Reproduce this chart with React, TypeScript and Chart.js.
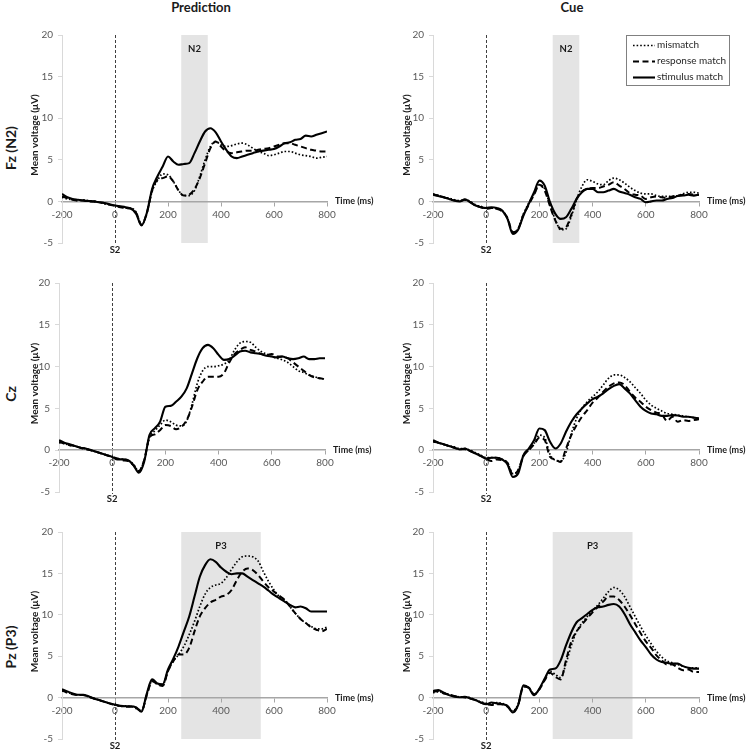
import React, { useEffect, useRef } from "react";
import { Chart, registerables } from "chart.js";

Chart.register(...registerables);

// ---------- data ----------
const TIMES = [-200,-180,-160,-140,-120,-100,-80,-60,-40,-20,0,20,40,60,80,100,120,140,160,180,200,220,240,260,280,300,320,340,360,380,400,420,440,460,480,500,520,540,560,580,600,620,640,660,680,700,720,740,760,780,800];

const SERIES_LABELS = ["mismatch", "response match", "stimulus match"];
const COLUMN_TITLES = ["Prediction", "Cue"];
const ROW_LABELS = ["Fz (N2)", "Cz", "Pz (P3)"];
const X_TITLE = "Time (ms)";
const Y_TITLE = "Mean voltage (μV)";
const ONSET_LABEL = "S2";
const ONSET_TIME = 0;
const N2_WINDOW = [250, 350];
const P3_WINDOW = [250, 550];

const FZ_PRED_MISMATCH = [0.5,0.3,0.2,0.1,0.2,0.1,0.0,-0.1,-0.3,-0.4, -0.5,-0.6,-0.8,-0.8,-1.3, -2.8,-1.5,1.2,2.5,3.3, 3.2,2.4,1.3,0.7,0.7, 1.3,3.0,5.0,6.6,7.2, 6.8,6.6,6.7,6.9,7.0, 6.8,6.4,6.0,5.8,5.5, 5.6,5.8,6.0,6.0,5.8, 5.6,5.5,5.4,5.2,5.3, 5.4];
const FZ_PRED_RESPONSE = [0.6,0.4,0.2,0.1,0.1,0.0,0.0,-0.1,-0.2,-0.4, -0.5,-0.7,-0.8,-0.9,-1.4, -2.8,-1.4,1.3,2.6,2.8, 3.0,2.4,1.3,0.7,0.8, 1.5,2.8,4.6,6.4,7.2, 6.6,6.0,5.8,5.9,6.0, 6.1,6.1,6.2,6.3,6.4, 6.6,6.8,7.0,7.0,6.8, 6.6,6.4,6.2,6.1,6.0, 6.0];
const FZ_PRED_STIMULUS = [0.9,0.5,0.3,0.2,0.1,0.05,0.0,-0.1,-0.2,-0.35, -0.5,-0.6,-0.7,-0.85,-1.5, -2.9,-1.4,1.5,3.0,4.2, 5.4,4.8,4.4,4.5,4.6, 5.8,7.2,8.4,8.8,8.3, 7.2,6.2,5.4,5.2,5.4, 5.6,5.8,6.0,6.1,6.2, 6.3,6.6,7.0,7.1,7.4, 7.5,7.9,7.8,8.0,8.2, 8.4];

const FZ_CUE_MISMATCH = [0.9,0.7,0.5,0.4,0.2,0.1,0.2,0.0,-0.4,-0.6, -0.8,-0.8,-0.9,-1.1,-2.0, -3.7,-3.3,-1.5,-0.2,0.9, 2.0,1.5,-0.5,-2.2,-3.4, -3.3,-1.8,0.2,1.8,2.6, 2.4,2.1,2.0,2.5,2.8, 2.6,2.2,1.7,1.3,1.0, 0.9,0.9,0.7,0.6,0.6, 0.6,0.7,0.9,1.1,1.1, 1.0];
const FZ_CUE_RESPONSE = [0.85,0.7,0.5,0.3,0.1,0.0,0.2,-0.1,-0.5,-0.7, -0.9,-0.8,-0.9,-1.2,-2.0, -3.7,-3.3,-1.6,-0.4,0.8, 2.0,1.3,-0.6,-2.3,-3.3, -3.1,-1.6,0.3,1.2,1.5, 1.6,1.6,1.8,2.0,2.3, 1.9,1.5,1.0,0.8,0.7, 0.3,0.5,0.6,0.5,0.4, 0.6,0.7,0.8,0.9,0.8, 0.8];
const FZ_CUE_STIMULUS = [0.8,0.65,0.5,0.3,0.1,0.0,0.25,-0.1,-0.5,-0.7, -0.8,-0.7,-0.8,-1.1,-2.1, -3.9,-3.4,-1.7,-0.3,1.1, 2.5,1.9,-0.1,-1.5,-2.1, -1.9,-0.9,0.3,1.1,1.5, 1.5,1.1,1.1,1.3,1.5, 1.2,1.0,0.8,0.5,0.3, -0.1,0.0,0.1,0.1,0.3, 0.4,0.65,0.7,0.8,0.7, 0.8];

const CZ_PRED_MISMATCH = [0.9,0.8,0.6,0.5,0.3,0.2,0.0,-0.2,-0.4,-0.6, -0.8,-1.0,-1.1,-1.2,-1.7, -2.5,-1.2,1.5,2.3,3.0, 3.6,3.4,3.0,2.9,3.5, 5.5,8.0,9.5,10.0,10.0, 10.1,10.3,10.8,12.0,12.8, 13.0,12.9,12.3,11.8,11.5, 11.2,11.0,10.8,10.5,10.0, 9.5,9.3,9.0,8.8,8.6, 8.5];
const CZ_PRED_RESPONSE = [1.0,0.8,0.6,0.5,0.3,0.1,0.0,-0.2,-0.4,-0.6, -0.8,-1.0,-1.2,-1.3,-1.8, -2.5,-1.2,1.5,1.9,2.4, 3.0,2.9,2.5,2.8,3.6, 5.2,7.2,8.2,8.8,8.8, 8.8,9.2,10.5,11.5,12.0, 12.3,12.0,11.8,11.5,11.4, 11.5,11.2,11.2,11.0,10.5, 10.0,9.5,9.0,8.7,8.6, 8.5];
const CZ_PRED_STIMULUS = [1.2,0.9,0.7,0.5,0.3,0.2,0.0,-0.2,-0.4,-0.6, -0.8,-1.1,-1.1,-1.2,-1.8, -2.7,-1.4,1.8,2.6,3.4, 5.2,5.3,5.8,6.4,7.4, 9.2,11.0,12.2,12.6,12.2, 11.4,10.8,10.9,11.3,11.8, 11.9,11.7,11.6,11.5,11.3, 11.2,11.1,11.2,11.0,10.9, 11.0,11.2,10.9,10.9,11.0, 11.0];

const CZ_CUE_MISMATCH = [1.1,0.9,0.7,0.5,0.4,0.2,0.2,0.0,-0.3,-0.6, -0.9,-0.9,-0.9,-1.1,-1.5, -2.8,-2.4,-0.6,0.0,0.8, 1.8,1.5,-0.5,-1.2,-1.3, -0.3,2.0,3.8,5.0,5.8, 6.4,7.0,7.8,8.6,9.0, 9.0,8.7,8.2,7.5,6.8, 6.0,5.4,5.0,4.7,4.4, 4.3,4.2,4.1,4.0,3.9, 3.8];
const CZ_CUE_RESPONSE = [1.0,0.9,0.7,0.5,0.3,0.1,0.1,-0.1,-0.4,-0.7, -1.0,-1.3,-1.1,-1.2,-1.5, -2.9,-2.4,-0.7,0.0,0.7, 1.5,1.2,-0.8,-1.1,-1.4, 0.2,1.8,3.0,4.0,4.8, 5.7,6.3,7.0,7.6,8.0, 8.1,7.8,7.0,6.3,5.8, 5.2,4.8,4.5,4.3,3.5, 4.0,3.4,3.6,3.5,3.6, 3.7];
const CZ_CUE_STIMULUS = [1.2,0.9,0.7,0.5,0.3,0.1,0.2,-0.1,-0.4,-0.7, -1.0,-0.9,-0.9,-1.1,-1.7, -3.2,-2.8,-0.6,0.2,1.2, 2.6,2.4,1.0,0.2,0.8, 2.2,3.4,4.3,5.0,5.6, 6.1,6.4,6.8,7.3,7.7, 7.9,7.4,6.8,6.0,5.2, 4.7,4.4,4.3,4.1,4.1, 4.2,4.15,4.0,4.0,3.9, 3.8];

const PZ_PRED_MISMATCH = [0.8,0.6,0.5,0.3,0.3,0.1,-0.1,-0.3,-0.5,-0.7, -0.9,-1.0,-1.0,-1.1,-1.2, -1.6,0.3,2.0,1.6,1.5, 3.2,4.4,5.2,6.2,7.6, 9.2,11.0,12.5,13.3,13.6, 13.8,14.5,15.5,16.4,17.0, 17.1,17.0,16.5,15.2,14.0, 13.0,12.2,11.8,11.0,10.2, 9.5,9.0,8.6,8.3,8.3, 8.5];
const PZ_PRED_RESPONSE = [0.9,0.6,0.4,0.3,0.3,0.1,-0.1,-0.3,-0.5,-0.7, -0.9,-1.0,-1.1,-1.1,-1.3, -1.6,0.3,2.0,1.6,1.4, 3.2,4.4,5.2,5.2,6.0, 8.0,9.8,10.8,11.5,11.8, 12.2,12.4,13.0,14.2,15.2, 15.6,15.4,14.8,14.0,13.3, 12.8,12.3,11.8,11.0,10.2, 9.5,9.0,8.5,8.2,8.0, 8.3];
const PZ_PRED_STIMULUS = [1.0,0.75,0.5,0.35,0.35,0.15,-0.1,-0.3,-0.5,-0.7, -0.85,-1.0,-1.05,-1.05,-1.2, -1.7,0.5,2.2,1.7,1.6, 3.4,4.7,6.2,8.0,9.8, 12.2,14.6,16.0,16.7,16.4, 15.7,15.2,14.9,15.0,15.0, 14.6,14.2,13.8,13.4,12.9, 12.4,12.0,11.6,11.2,10.9, 11.0,10.8,10.4,10.4,10.4, 10.4];

const PZ_CUE_MISMATCH = [0.6,0.7,0.6,0.4,0.2,0.1,0.1,0.0,-0.3,-0.5, -0.7,-0.8,-0.6,-0.7,-1.0, -1.6,-0.8,1.3,1.2,0.4, 1.0,2.2,3.2,2.8,2.4, 4.1,6.3,8.0,9.0,9.8, 10.5,11.2,12.0,12.8,13.3, 13.0,12.2,11.0,9.8,8.6, 7.5,6.5,5.6,4.9,4.4, 4.2,4.0,3.8,3.6,3.6, 3.6];
const PZ_CUE_RESPONSE = [0.7,0.8,0.5,0.4,0.2,0.1,0.0,-0.1,-0.3,-0.6, -0.8,-0.9,-0.8,-0.8,-1.1, -1.7,-0.9,1.3,1.2,0.4, 1.0,2.1,3.0,2.5,2.2, 4.5,6.8,8.0,8.8,9.6, 10.3,11.0,11.6,12.2,12.2, 11.8,11.0,10.0,8.9,7.8, 6.8,6.0,5.1,4.5,4.0, 4.0,3.6,3.3,3.4,3.1, 3.1];
const PZ_CUE_STIMULUS = [0.8,0.9,0.6,0.3,0.1,0.05,0.1,-0.1,-0.3,-0.6, -0.8,-0.6,-0.7,-0.8,-1.0, -1.8,-0.9,1.5,1.2,0.3, 1.1,2.3,3.4,3.5,4.5, 6.3,7.9,9.1,9.6,10.1, 10.6,10.9,11.0,11.2,11.3, 11.0,10.1,8.9,7.9,6.9, 6.1,5.2,4.6,4.3,4.2, 4.1,4.1,3.8,3.6,3.5, 3.5];

// ---------- styles / layout ----------
const FONT = "Lato, 'Open Sans', 'DejaVu Sans', sans-serif";
const Y_AXIS_W = 30;
const SERIES_STYLE = [
  { dash: [1.6, 2], width: 1.7 },
  { dash: [6, 3.5], width: 2 },
  { dash: [] as number[], width: 2.1 },
];
const LEGEND_BOX = { left: 626, top: 35, width: 103, height: 50 };

type Rect = { left: number; top: number; width: number; height: number };
type Area = { left: number; right: number; top: number; bottom: number };
type PanelCfg = {
  values: number[][];
  band: number[] | null;
  bandLabel: string;
  legend: boolean;
  rect: Rect;
  area: Area;
  yTitleX: number;
};

const PANELS: PanelCfg[] = [
  { values: [FZ_PRED_MISMATCH, FZ_PRED_RESPONSE, FZ_PRED_STIMULUS], band: N2_WINDOW, bandLabel: "N2", legend: false,
    rect: { left: 0, top: 0, width: 374, height: 262 }, area: { left: 62, right: 327, top: 35, bottom: 243 }, yTitleX: 35 },
  { values: [FZ_CUE_MISMATCH, FZ_CUE_RESPONSE, FZ_CUE_STIMULUS], band: N2_WINDOW, bandLabel: "N2", legend: true,
    rect: { left: 374, top: 0, width: 373, height: 262 }, area: { left: 433, right: 699, top: 35, bottom: 243 }, yTitleX: 407 },
  { values: [CZ_PRED_MISMATCH, CZ_PRED_RESPONSE, CZ_PRED_STIMULUS], band: null, bandLabel: "", legend: false,
    rect: { left: 0, top: 248, width: 374, height: 262 }, area: { left: 59, right: 325, top: 283, bottom: 492 }, yTitleX: 35 },
  { values: [CZ_CUE_MISMATCH, CZ_CUE_RESPONSE, CZ_CUE_STIMULUS], band: null, bandLabel: "", legend: false,
    rect: { left: 374, top: 248, width: 373, height: 262 }, area: { left: 433, right: 699, top: 283, bottom: 492 }, yTitleX: 407 },
  { values: [PZ_PRED_MISMATCH, PZ_PRED_RESPONSE, PZ_PRED_STIMULUS], band: P3_WINDOW, bandLabel: "P3", legend: false,
    rect: { left: 0, top: 497, width: 374, height: 253 }, area: { left: 62, right: 327, top: 532, bottom: 739 }, yTitleX: 35 },
  { values: [PZ_CUE_MISMATCH, PZ_CUE_RESPONSE, PZ_CUE_STIMULUS], band: P3_WINDOW, bandLabel: "P3", legend: false,
    rect: { left: 374, top: 497, width: 373, height: 253 }, area: { left: 433, right: 699, top: 532, bottom: 739 }, yTitleX: 407 },
];

const COL_TITLE_POS = [{ x: 201, y: 7 }, { x: 572, y: 7 }];
const ROW_LABEL_POS = [{ x: 11, y: 148 }, { x: 11, y: 394 }, { x: 11, y: 647 }];

function Panel({ cfg }: { cfg: PanelCfg }) {
  const ref = useRef<HTMLCanvasElement | null>(null);
  useEffect(() => {
    const canvas = ref.current;
    if (!canvas) return;
    const { rect, area } = cfg;
    const pad = {
      left: area.left - rect.left - Y_AXIS_W,
      right: rect.left + rect.width - area.right,
      top: area.top - rect.top,
      bottom: rect.top + rect.height - area.bottom,
    };
    const datasets = SERIES_LABELS.map((label, k) => ({
      label,
      data: TIMES.map((t, i) => ({ x: t, y: cfg.values[k][i] })),
      borderColor: "#000",
      borderWidth: SERIES_STYLE[k].width,
      borderDash: SERIES_STYLE[k].dash,
      pointRadius: 0,
      fill: false,
      tension: 0.4,
      cubicInterpolationMode: "monotone" as const,
    }));

    const plugin = {
      id: "erpAnnot",
      beforeDraw(chart: any) {
        const { ctx, chartArea: a, scales } = chart;
        const xs = scales.x;
        ctx.save();
        if (cfg.band) {
          const x0 = xs.getPixelForValue(cfg.band[0]);
          const x1 = xs.getPixelForValue(cfg.band[1]);
          ctx.fillStyle = "#e4e4e4";
          ctx.fillRect(x0, a.top, x1 - x0, a.bottom - a.top);
        }
        const px = Math.round(xs.getPixelForValue(ONSET_TIME)) + 0.5;
        ctx.strokeStyle = "#404040";
        ctx.lineWidth = 1;
        ctx.setLineDash([3, 2]);
        ctx.beginPath();
        ctx.moveTo(px, a.top);
        ctx.lineTo(px, a.bottom + 2);
        ctx.stroke();
        ctx.restore();
      },
      afterDraw(chart: any) {
        const { ctx, chartArea: a, scales } = chart;
        const xs = scales.x;
        const ys = scales.y;
        ctx.save();
        ctx.fillStyle = "#1a1a1a";
        ctx.textBaseline = "middle";
        ctx.font = `bold 9px ${FONT}`;
        ctx.textAlign = "left";
        ctx.fillText(X_TITLE, a.right + 8, ys.getPixelForValue(0));
        ctx.font = `bold 9.5px ${FONT}`;
        ctx.textAlign = "center";
        ctx.fillText(ONSET_LABEL, xs.getPixelForValue(ONSET_TIME), a.bottom + 7);
        if (cfg.band) {
          ctx.fillText(cfg.bandLabel, xs.getPixelForValue((cfg.band[0] + cfg.band[1]) / 2), a.top + 14);
        }
        // y title
        ctx.save();
        ctx.font = `bold 10px ${FONT}`;
        ctx.translate(cfg.yTitleX - rect.left, (a.top + a.bottom) / 2 - 4);
        ctx.rotate(-Math.PI / 2);
        ctx.fillText(Y_TITLE, 0, 0);
        ctx.restore();
        // legend
        if (cfg.legend) {
          const lx = LEGEND_BOX.left - rect.left;
          const ly = LEGEND_BOX.top - rect.top;
          ctx.fillStyle = "#fff";
          ctx.fillRect(lx, ly, LEGEND_BOX.width, LEGEND_BOX.height);
          ctx.strokeStyle = "#808080";
          ctx.lineWidth = 1;
          ctx.setLineDash([]);
          ctx.strokeRect(lx + 0.5, ly + 0.5, LEGEND_BOX.width, LEGEND_BOX.height);
          SERIES_LABELS.forEach((label, k) => {
            const yy = ly + 10 + 16 * k;
            ctx.strokeStyle = "#000";
            ctx.lineWidth = SERIES_STYLE[k].width;
            ctx.setLineDash(SERIES_STYLE[k].dash);
            ctx.beginPath();
            ctx.moveTo(lx + 7, yy + 0.5);
            ctx.lineTo(lx + 29, yy + 0.5);
            ctx.stroke();
            ctx.setLineDash([]);
            ctx.fillStyle = "#262626";
            ctx.font = `10px ${FONT}`;
            ctx.textAlign = "left";
            ctx.textBaseline = "middle";
            ctx.fillText(label, lx + 31, yy);
          });
        }
        ctx.restore();
      },
    };

    const chart = new Chart(canvas, {
      type: "line",
      data: { datasets },
      options: {
        animation: false,
        responsive: false,
        devicePixelRatio: 1,
        events: [],
        layout: { padding: pad },
        plugins: { legend: { display: false }, tooltip: { enabled: false }, title: { display: false } },
        scales: {
          x: {
            type: "linear",
            min: -200,
            max: 800,
            position: { y: 0 } as any,
            ticks: { stepSize: 200, autoSkip: false, maxRotation: 0, padding: 3, color: "#595959", font: { family: FONT, size: 10 } },
            grid: { display: true, drawOnChartArea: false, drawTicks: true, tickLength: 4, color: "#a6a6a6" },
            border: { display: true, color: "#a6a6a6", width: 1.5 },
          },
          y: {
            type: "linear",
            min: -5,
            max: 20,
            position: "left",
            afterFit: (s: any) => { s.width = Y_AXIS_W; },
            ticks: { stepSize: 5, padding: 5, color: "#595959", font: { family: FONT, size: 10 } },
            grid: { display: true, drawOnChartArea: false, drawTicks: true, tickLength: 4, color: "#d9d9d9" },
            border: { display: true, color: "#d9d9d9", width: 1 },
          },
        },
      } as any,
      plugins: [plugin],
    });
    return () => chart.destroy();
  }, [cfg]);
  return (
    <canvas
      ref={ref}
      width={cfg.rect.width}
      height={cfg.rect.height}
      style={{ position: "absolute", left: cfg.rect.left, top: cfg.rect.top, width: cfg.rect.width, height: cfg.rect.height }}
    />
  );
}

export default function App() {
  return (
    <div style={{ position: "absolute", left: 0, top: 0, width: 747, height: 750, overflow: "hidden", background: "#fff" }}>
      {COLUMN_TITLES.map((t, i) => (
        <div key={t} style={{ position: "absolute", left: COL_TITLE_POS[i].x, top: COL_TITLE_POS[i].y, transform: "translate(-50%, -50%)", font: `bold 13px ${FONT}`, color: "#1a1a1a", whiteSpace: "nowrap", lineHeight: 1 }}>
          {t}
        </div>
      ))}
      {ROW_LABELS.map((t, i) => (
        <div key={t} style={{ position: "absolute", left: ROW_LABEL_POS[i].x, top: ROW_LABEL_POS[i].y, transform: "translate(-50%, -50%) rotate(-90deg)", font: `bold 14px ${FONT}`, color: "#1a1a1a", whiteSpace: "nowrap", lineHeight: 1 }}>
          {t}
        </div>
      ))}
      {PANELS.map((p, i) => (
        <Panel key={i} cfg={p} />
      ))}
    </div>
  );
}
